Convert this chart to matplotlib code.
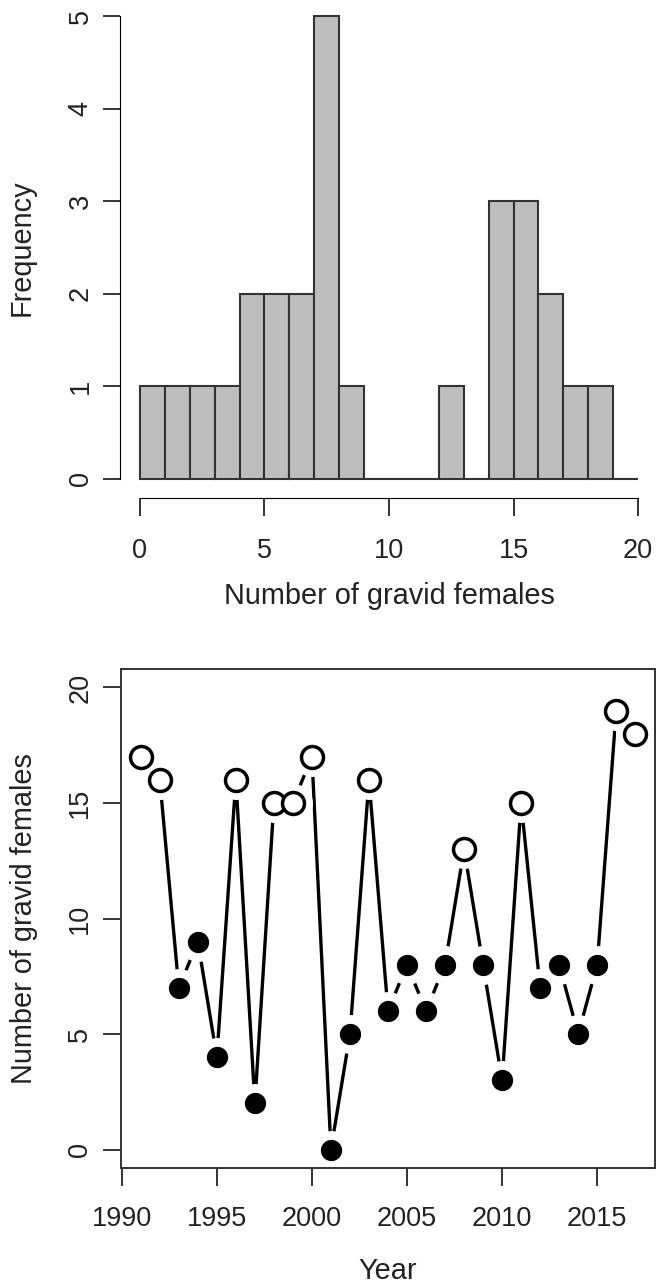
import numpy as np
import matplotlib as mpl
mpl.use("Agg")
import matplotlib.pyplot as plt

mpl.rcParams.update({"font.family": ["Liberation Sans", "DejaVu Sans"],
                     "font.size": 19.5, "axes.labelsize": 20.8})

# gravid females counted each year
years = list(range(1991, 2018))
gravid = [17, 16, 7, 9, 4, 16, 2, 15, 15, 17, 0, 5, 16, 6, 8,
          6, 8, 13, 8, 3, 15, 7, 8, 5, 8, 19, 18]

# histogram of the yearly counts, unit bins 0-20
bin_edges = list(range(0, 21))
freq = [1, 1, 1, 1, 2, 2, 2, 5, 1, 0, 0, 0, 1, 0, 3, 3, 2, 1, 1, 0]

hist_xticks = [0, 5, 10, 15, 20]
hist_yticks = [0, 1, 2, 3, 4, 5]
year_xticks = [1990, 1995, 2000, 2005, 2010, 2015]
year_yticks = [0, 5, 10, 15, 20]

axcol = "#333333"
txtcol = "#222222"

W, H = 658, 1283
fig = plt.figure(figsize=(W / 100, H / 100), dpi=100)

def px_axes(left, top, right, bottom):
  return fig.add_axes([left / W, 1 - bottom / H, (right - left) / W, (bottom - top) / H])

# ---- histogram ----
ax1 = px_axes(120, -2.5, 658, 497.5)
ax1.bar(bin_edges[:-1], freq, width=1, align="edge", color="#bebebe",
        edgecolor=axcol, linewidth=1.5, zorder=2)
ax1.set_xlim(-0.8, 20.8)
ax1.set_ylim(-0.2, 5.2)
for s in ["top", "right"]:
  ax1.spines[s].set_visible(False)
ax1.spines["left"].set_bounds(0, 5)
ax1.spines["bottom"].set_bounds(0, 20)
ax1.set_xticks(hist_xticks)
ax1.set_yticks(hist_yticks)
ax1.tick_params(axis="x", length=13, width=1.4, color=axcol, pad=16, labelcolor=txtcol)
ax1.tick_params(axis="y", length=12, width=1.4, color=axcol, pad=7, labelcolor=txtcol)
plt.setp(ax1.get_yticklabels(), rotation=90, va="center")
ax1.set_xlabel("Number of gravid females", color=txtcol, va="top")
ax1.set_ylabel("Frequency", color=txtcol)
ax1.xaxis.set_label_coords(0.5, -0.169)
ax1.yaxis.set_label_coords(-0.157, 0.5)

# ---- time series ----
ax2 = px_axes(121, 669, 655, 1168)
yrs = np.array(years)
vals = np.array(gravid)
high = vals > 10

ax2.plot(yrs, vals, color="black", linewidth=2.4, zorder=2,
         solid_capstyle="butt")
# white halos leave the gaps between the line and each point
ax2.plot(yrs, vals, linestyle="none", marker="o", markersize=27,
         markerfacecolor="white", markeredgecolor="white", zorder=2.2)
ax2.plot(yrs[high], vals[high], linestyle="none", marker="o", markersize=15.8,
         markerfacecolor="white", markeredgecolor="black", markeredgewidth=2.5,
         zorder=4, clip_on=False)
ax2.plot(yrs[~high], vals[~high], linestyle="none", marker="o", markersize=14.3,
         markerfacecolor="black", markeredgecolor="black", markeredgewidth=1,
         zorder=4, clip_on=False)

ax2.set_xlim(1989.96, 2018.04)
ax2.set_ylim(-0.8, 20.8)
for s in ax2.spines.values():
  s.set_linewidth(1.4)
  s.set_color(axcol)
  s.set_zorder(3)
ax2.set_xticks(year_xticks)
ax2.set_yticks(year_yticks)
ax2.tick_params(axis="x", length=13, width=1.4, color=axcol, pad=14.5, labelcolor=txtcol)
ax2.tick_params(axis="y", length=13, width=1.4, color=axcol, pad=7, labelcolor=txtcol)
plt.setp(ax2.get_yticklabels(), rotation=90, va="center")
ax2.set_xlabel("Year", color=txtcol, va="top")
ax2.set_ylabel("Number of gravid females", color=txtcol)
ax2.xaxis.set_label_coords(0.5, -0.178)
ax2.yaxis.set_label_coords(-0.155, 0.5)

fig.savefig("out.png", dpi=100)
